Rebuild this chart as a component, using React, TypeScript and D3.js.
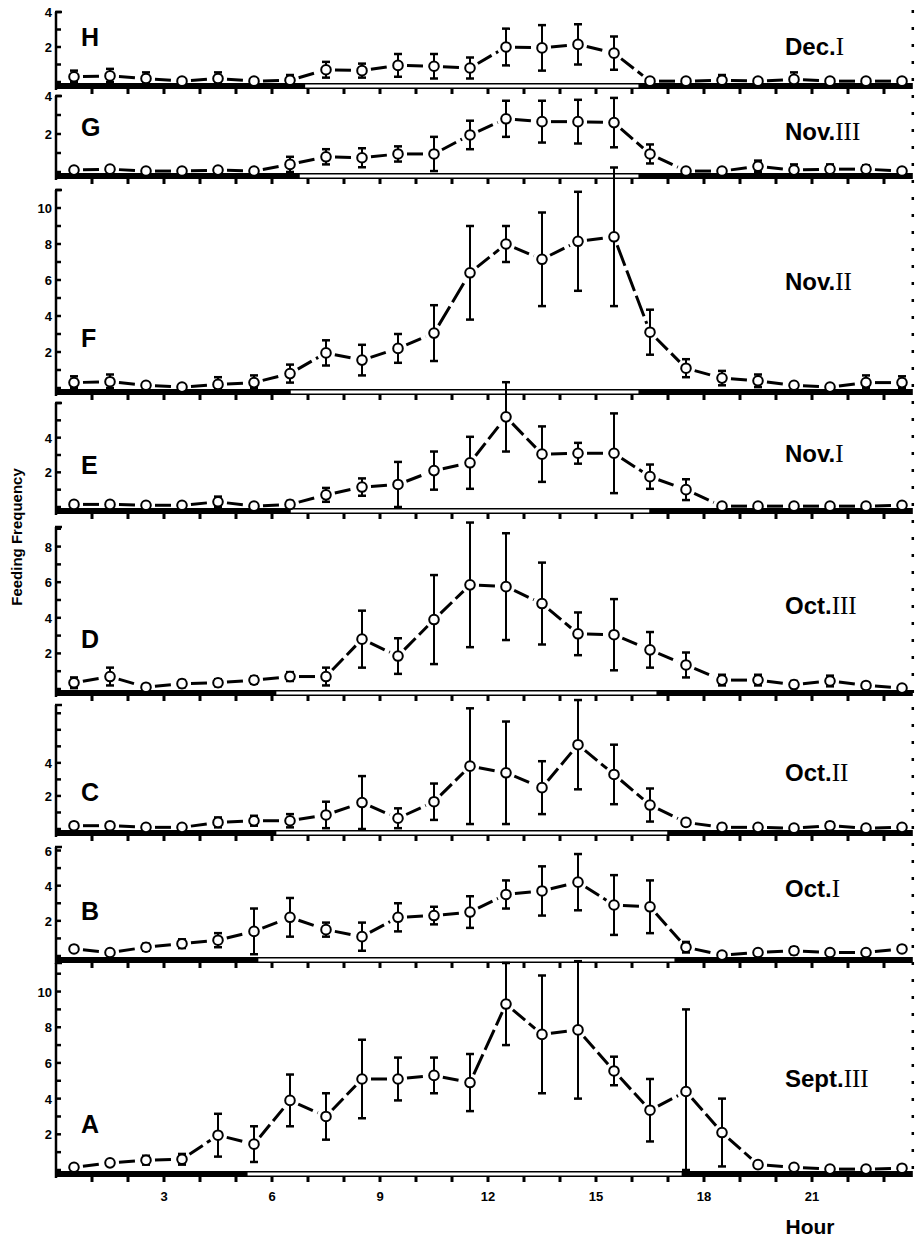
import React, { useRef, useEffect } from 'react';
import * as d3 from 'd3';

// sampling hours (mid-hour), shared by all panels
const hours = [0.5, 1.5, 2.5, 3.5, 4.5, 5.5, 6.5, 7.5, 8.5, 9.5, 10.5, 11.5,
  12.5, 13.5, 14.5, 15.5, 16.5, 17.5, 18.5, 19.5, 20.5, 21.5, 22.5, 23.5];
const xTickLabels = [3, 6, 9, 12, 15, 18, 21];

// panels top to bottom
const panelLetters = ['H', 'G', 'F', 'E', 'D', 'C', 'B', 'A'];
const periodNames = ['Dec.', 'Nov.', 'Nov.', 'Nov.', 'Oct.', 'Oct.', 'Oct.', 'Sept.'];
const periodNumerals = ['I', 'III', 'II', 'I', 'III', 'II', 'I', 'III'];
const lightOn = [6.9, 6.75, 6.5, 6.5, 6.1, 6.1, 5.6, 5.3];
const lightOff = [16.2, 16.2, 16.2, 16.5, 16.7, 17.0, 17.2, 17.4];
const yMax = [4, 4, 11, 6, 9.1, 7.5, 6.2, 11.6];
const yTickLabels = [[2, 4], [2, 4], [2, 4, 6, 8, 10], [2, 4], [2, 4, 6, 8], [2, 4], [2, 4, 6], [2, 4, 6, 8, 10]];

const meanH = [0.3, 0.35, 0.2, 0.05, 0.2, 0.05, 0.1, 0.7, 0.65, 0.95, 0.9, 0.8, 2.0, 1.95, 2.15, 1.65, 0.05, 0.05, 0.1, 0.05, 0.15, 0.05, 0.05, 0.05];
const errH = [0.35, 0.4, 0.35, 0, 0.35, 0, 0.3, 0.45, 0.4, 0.65, 0.7, 0.6, 1.05, 1.3, 1.15, 0.95, 0, 0, 0.3, 0, 0.4, 0, 0, 0];
const meanG = [0.1, 0.15, 0.05, 0.05, 0.1, 0.05, 0.4, 0.8, 0.75, 0.95, 0.95, 1.95, 2.8, 2.65, 2.65, 2.6, 0.95, 0.05, 0.05, 0.3, 0.1, 0.15, 0.15, 0.05];
const errG = [0, 0, 0, 0, 0, 0, 0.4, 0.4, 0.5, 0.4, 0.9, 0.75, 0.95, 1.1, 1.15, 1.3, 0.5, 0, 0, 0.3, 0.3, 0.25, 0.2, 0];
const meanF = [0.3, 0.35, 0.15, 0.05, 0.2, 0.3, 0.8, 1.95, 1.55, 2.2, 3.05, 6.4, 8.0, 7.15, 8.15, 8.4, 3.1, 1.1, 0.55, 0.4, 0.15, 0.05, 0.3, 0.3];
const errF = [0.35, 0.4, 0, 0, 0.4, 0.4, 0.5, 0.7, 0.85, 0.8, 1.55, 2.6, 1.0, 2.6, 2.75, 3.85, 1.25, 0.5, 0.4, 0.35, 0, 0, 0.4, 0.35];
const meanE = [0.15, 0.15, 0.1, 0.1, 0.3, 0.05, 0.15, 0.7, 1.15, 1.3, 2.1, 2.55, 5.2, 3.05, 3.1, 3.1, 1.75, 1.0, 0.05, 0.05, 0.05, 0.05, 0.05, 0.1];
const errE = [0, 0, 0, 0, 0.3, 0, 0.2, 0.4, 0.5, 1.3, 1.1, 1.5, 2.0, 1.6, 0.6, 2.3, 0.7, 0.6, 0, 0, 0, 0, 0, 0];
const meanD = [0.35, 0.7, 0.1, 0.3, 0.35, 0.5, 0.7, 0.7, 2.8, 1.85, 3.9, 5.85, 5.75, 4.8, 3.1, 3.05, 2.2, 1.35, 0.5, 0.5, 0.25, 0.45, 0.2, 0.05];
const errD = [0.3, 0.5, 0, 0.2, 0.2, 0.2, 0.25, 0.5, 1.6, 1.0, 2.5, 3.5, 3.0, 2.3, 1.2, 2.0, 1.0, 0.7, 0.3, 0.3, 0.2, 0.3, 0, 0];
const meanC = [0.2, 0.2, 0.1, 0.1, 0.4, 0.5, 0.5, 0.85, 1.6, 0.65, 1.65, 3.8, 3.4, 2.5, 5.1, 3.3, 1.45, 0.4, 0.1, 0.1, 0.05, 0.2, 0.05, 0.1];
const errC = [0, 0, 0, 0, 0.3, 0.3, 0.4, 0.8, 1.6, 0.6, 1.1, 3.5, 3.1, 1.6, 2.7, 1.8, 1.0, 0.2, 0.2, 0, 0, 0.2, 0, 0];
const meanB = [0.4, 0.2, 0.5, 0.7, 0.9, 1.4, 2.2, 1.5, 1.1, 2.2, 2.3, 2.5, 3.5, 3.7, 4.2, 2.9, 2.8, 0.5, 0.05, 0.2, 0.3, 0.2, 0.2, 0.4];
const errB = [0, 0, 0.2, 0.25, 0.4, 1.3, 1.1, 0.4, 0.8, 0.8, 0.5, 0.9, 0.8, 1.4, 1.6, 1.7, 1.5, 0.3, 0, 0, 0.2, 0, 0, 0];
const meanA = [0.15, 0.4, 0.55, 0.6, 1.95, 1.45, 3.9, 3.0, 5.1, 5.1, 5.3, 4.9, 9.3, 7.6, 7.85, 5.55, 3.35, 4.4, 2.1, 0.3, 0.15, 0.05, 0.05, 0.1];
const errA = [0, 0.15, 0.25, 0.3, 1.2, 1.0, 1.45, 1.3, 2.2, 1.2, 1.0, 1.6, 2.3, 3.3, 3.85, 0.8, 1.75, 4.6, 1.9, 0.15, 0, 0, 0, 0];

const means = [meanH, meanG, meanF, meanE, meanD, meanC, meanB, meanA];
const errs = [errH, errG, errF, errE, errD, errC, errB, errA];

// layout (pixels)
const W = 915;
const H = 1241;
const zeroY = [82, 172, 388, 507, 689, 829, 956, 1170];
const topY = [12, 96, 190, 403, 527, 705, 847, 963];
const letterY = [46, 136, 347, 474, 648, 801, 920, 1133];
const tagY = [55, 140, 290, 462, 614, 781, 897, 1087];
const FONT = '"Liberation Sans", Arial, sans-serif';
const SERIF = '"Liberation Serif", "Times New Roman", serif';

const FeedingChart = () => {
  const svgRef = useRef(null);

  useEffect(() => {
    const root = d3.select(svgRef.current);
    root.selectAll('*').remove();
    const svg = root.append('g');

    const x = d3.scaleLinear().domain([0, 24]).range([56, 920]);
    const xRight = x(23.8);

    // right dotted frame
    svg.append('line')
      .attr('x1', xRight).attr('x2', xRight)
      .attr('y1', 10).attr('y2', 1176)
      .attr('stroke', '#000').attr('stroke-width', 2.5)
      .attr('stroke-dasharray', '3,14');

    means.forEach((mean, i) => {
      const y = d3.scaleLinear().domain([0, yMax[i]]).range([zeroY[i], topY[i]]);
      const g = svg.append('g');
      const y0 = zeroY[i];
      const axisX = x(0);

      // y axis
      g.append('line')
        .attr('x1', axisX).attr('x2', axisX)
        .attr('y1', topY[i]).attr('y2', y0 + 8)
        .attr('stroke', '#000').attr('stroke-width', 2.5);
      g.selectAll('.ytick')
        .data(d3.range(0, Math.floor(yMax[i]) + 1))
        .enter().append('line')
        .attr('x1', axisX).attr('x2', axisX + 5)
        .attr('y1', d => y(d)).attr('y2', d => y(d))
        .attr('stroke', '#000').attr('stroke-width', 2.5);
      g.append('line')
        .attr('x1', axisX - 1).attr('x2', axisX + 6)
        .attr('y1', topY[i]).attr('y2', topY[i])
        .attr('stroke', '#000').attr('stroke-width', 2.5);
      g.selectAll('.ylab')
        .data(yTickLabels[i])
        .enter().append('text')
        .attr('x', axisX - 4)
        .attr('y', d => y(d) + 5)
        .attr('text-anchor', 'end')
        .style('font-family', FONT).style('font-weight', 'bold').style('font-size', '13px')
        .text(d => d);

      // light / dark bar on the baseline
      const barY = y0 + 1;
      g.append('rect')
        .attr('x', axisX).attr('y', barY)
        .attr('width', x(lightOn[i]) - axisX).attr('height', 6)
        .attr('fill', '#000');
      g.append('rect')
        .attr('x', x(lightOff[i])).attr('y', barY)
        .attr('width', xRight - x(lightOff[i])).attr('height', 6)
        .attr('fill', '#000');
      g.append('rect')
        .attr('x', x(lightOn[i])).attr('y', barY + 0.75)
        .attr('width', x(lightOff[i]) - x(lightOn[i])).attr('height', 4.5)
        .attr('fill', '#fff').attr('stroke', '#000').attr('stroke-width', 1.5);
      g.selectAll('.xtick')
        .data(d3.range(1, 24))
        .enter().append('line')
        .attr('x1', d => x(d)).attr('x2', d => x(d))
        .attr('y1', barY + 6).attr('y2', barY + 11)
        .attr('stroke', '#000').attr('stroke-width', 3);

      // connecting dashed line, broken around each marker
      const pts = hours.map((h, k) => [x(h), y(mean[k])]);
      d3.pairs(pts).forEach(([a, b]) => {
        const dx = b[0] - a[0];
        const dy = b[1] - a[1];
        const len = Math.hypot(dx, dy);
        const cut = 9;
        if (len <= cut * 2 + 2) return;
        const ux = dx / len;
        const uy = dy / len;
        g.append('line')
          .attr('x1', a[0] + ux * cut).attr('y1', a[1] + uy * cut)
          .attr('x2', b[0] - ux * cut).attr('y2', b[1] - uy * cut)
          .attr('stroke', '#000').attr('stroke-width', 3)
          .attr('stroke-dasharray', len > 60 ? '22,5' : '16,5');
      });

      // error bars
      const err = errs[i];
      hours.forEach((h, k) => {
        if (!err[k]) return;
        const lo = Math.max(0, mean[k] - err[k]);
        const hi = mean[k] + err[k];
        const cx = x(h);
        g.append('line')
          .attr('x1', cx).attr('x2', cx)
          .attr('y1', y(lo)).attr('y2', y(hi))
          .attr('stroke', '#000').attr('stroke-width', 2);
        [lo, hi].forEach(v => {
          g.append('line')
            .attr('x1', cx - 4).attr('x2', cx + 4)
            .attr('y1', y(v)).attr('y2', y(v))
            .attr('stroke', '#000').attr('stroke-width', 2.5);
        });
      });

      // open circle markers
      g.selectAll('.pt')
        .data(hours)
        .enter().append('circle')
        .attr('cx', d => x(d))
        .attr('cy', (d, k) => y(mean[k]))
        .attr('r', 4.8)
        .attr('fill', '#fff')
        .attr('stroke', '#000').attr('stroke-width', 2);

      // panel letter
      g.append('text')
        .attr('x', 81).attr('y', letterY[i])
        .style('font-family', FONT).style('font-weight', 'bold').style('font-size', '25px')
        .text(panelLetters[i]);

      // period tag
      const tag = g.append('text')
        .attr('x', 785).attr('y', tagY[i])
        .style('font-family', FONT).style('font-weight', 'bold').style('font-size', '24px');
      tag.append('tspan').text(periodNames[i]);
      tag.append('tspan')
        .style('font-family', SERIF).style('font-weight', 'normal').style('font-size', '25px')
        .text(periodNumerals[i]);
    });

    // bottom axis labels
    svg.selectAll('.xlab')
      .data(xTickLabels)
      .enter().append('text')
      .attr('x', d => x(d))
      .attr('y', 1201)
      .attr('text-anchor', 'middle')
      .style('font-family', FONT).style('font-weight', 'bold').style('font-size', '13px')
      .text(d => d);

    svg.append('text')
      .attr('x', 810).attr('y', 1234)
      .attr('text-anchor', 'middle')
      .style('font-family', FONT).style('font-weight', 'bold').style('font-size', '21px')
      .text('Hour');

    svg.append('text')
      .attr('transform', 'translate(22,537) rotate(-90)')
      .attr('text-anchor', 'middle')
      .style('font-family', FONT).style('font-weight', 'bold').style('font-size', '15px')
      .text('Feeding Frequency');
  }, []);

  return (
    <svg
      ref={svgRef}
      width={W}
      height={H}
      style={{ position: 'absolute', left: 0, top: 0, background: '#fff' }}
    ></svg>
  );
};

export default function App() {
  return <FeedingChart />;
}
